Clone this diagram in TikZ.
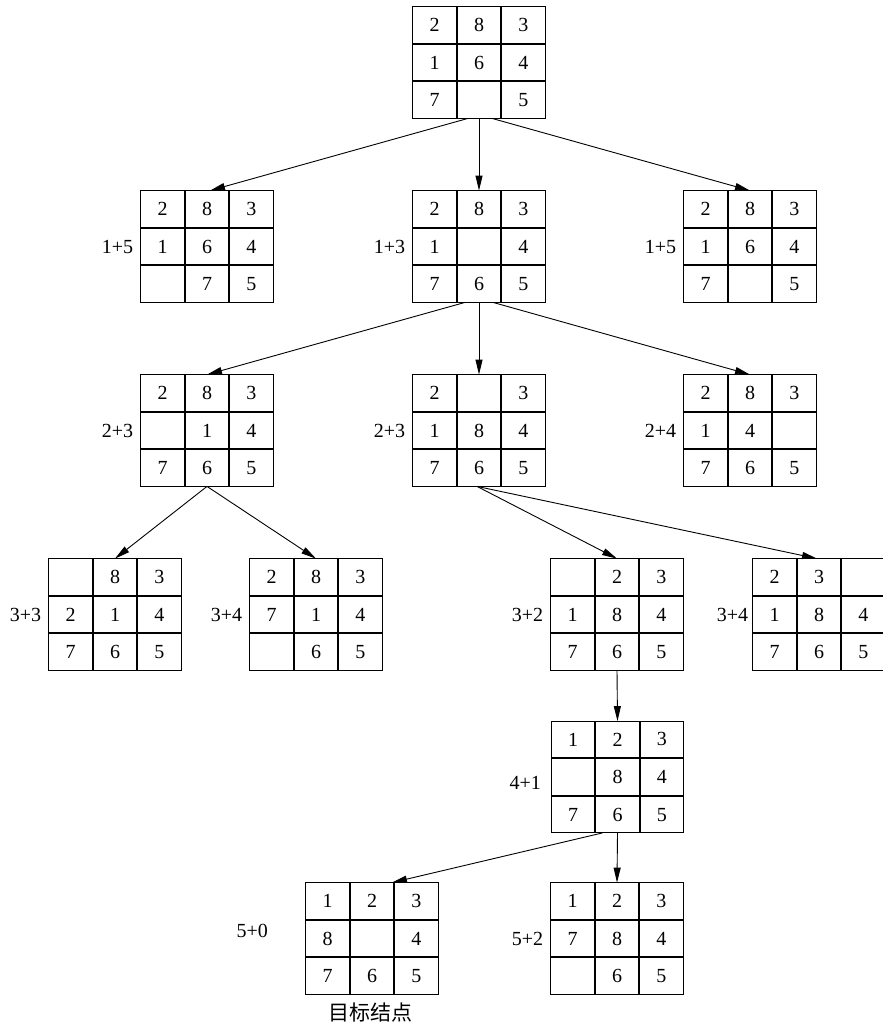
\documentclass[tikz,border=0pt]{standalone}
\usepackage{fontspec}
\setmainfont{Liberation Serif}
\newfontfamily\cjk{Noto Sans CJK SC}
\usetikzlibrary{matrix,arrows.meta,calc}

\tikzset{
  board/.style={
    matrix of nodes, nodes in empty cells,
    inner sep=0pt, outer sep=0pt,
    column sep=0pt, row sep=0pt,
    nodes={draw, line width=1pt, inner sep=0pt, outer sep=0pt,
           minimum width=43.4pt, minimum height=36.6pt, anchor=center,
           font=\fontsize{20}{24}\selectfont}
  },
  lab/.style={anchor=east, inner sep=0pt, font=\fontsize{20}{24}\selectfont},
  move/.style={line width=0.9pt, -{Triangle[length=15pt,width=7pt]}}
}

\begin{document}
\begin{tikzpicture}[x=1pt,y=-1pt]
\useasboundingbox (0,0) rectangle (883,1025);

% start state
\matrix[board] (r) at (479,62.5) {2&8&3\\1&6&4\\7&&5\\};

% depth 1
\matrix[board] (a1) at (207,246.5) {2&8&3\\1&6&4\\&7&5\\};
\node[lab] (a1-lab) at ($(a1.west)+(-7,0)$) {1+5};
\matrix[board] (a2) at (479,246.5) {2&8&3\\1&&4\\7&6&5\\};
\node[lab] (a2-lab) at ($(a2.west)+(-7,0)$) {1+3};
\matrix[board] (a3) at (750,246.5) {2&8&3\\1&6&4\\7&&5\\};
\node[lab] (a3-lab) at ($(a3.west)+(-7,0)$) {1+5};

% depth 2
\matrix[board] (b1) at (207,430.5) {2&8&3\\&1&4\\7&6&5\\};
\node[lab] (b1-lab) at ($(b1.west)+(-7,0)$) {2+3};
\matrix[board] (b2) at (479,430.5) {2&&3\\1&8&4\\7&6&5\\};
\node[lab] (b2-lab) at ($(b2.west)+(-7,0)$) {2+3};
\matrix[board] (b3) at (750,430.5) {2&8&3\\1&4&\\7&6&5\\};
\node[lab] (b3-lab) at ($(b3.west)+(-7,0)$) {2+4};

% depth 3
\matrix[board] (c1) at (115,614.5) {&8&3\\2&1&4\\7&6&5\\};
\node[lab] (c1-lab) at ($(c1.west)+(-7,0)$) {3+3};
\matrix[board] (c2) at (316,614.5) {2&8&3\\7&1&4\\&6&5\\};
\node[lab] (c2-lab) at ($(c2.west)+(-7,0)$) {3+4};
\matrix[board] (c3) at (617,614.5) {&2&3\\1&8&4\\7&6&5\\};
\node[lab] (c3-lab) at ($(c3.west)+(-7,0)$) {3+2};
\matrix[board] (c4) at (819,614.5) {2&3&\\1&8&4\\7&6&5\\};
\node[lab] (c4-lab) at ($(c4.west)+(-4,0)$) {3+4};

% depth 4
\matrix[board] (d1) at (617.5,777) {1&2&3\\&8&4\\7&6&5\\};
\node[lab] (d1-lab) at (541,783) {4+1};

% depth 5
\matrix[board] (e1) at (372,938.5) {1&2&3\\8&&4\\7&6&5\\};
\node[lab] (e1-lab) at (268,931) {5+0};
\node[font=\cjk\fontsize{21}{24}\selectfont, inner sep=0pt] (goal) at (370,1012) {目标结点};
\matrix[board] (e2) at (617,938.5) {1&2&3\\7&8&4\\&6&5\\};
\node[lab] (e2-lab) at ($(e2.west)+(-7,0)$) {5+2};

% expansions
\draw[move] ($(r-3-2.south)+(-11,0)$) -- ($(a1-1-2.north)+(3,0)$);
\draw[move] (r-3-2.south) -- (a2-1-2.north);
\draw[move] ($(r-3-2.south)+(13,0)$) -- (a3-1-2.north);

\draw[move] ($(a2-3-2.south)+(-14,0)$) -- (b1-1-2.north);
\draw[move] (a2-3-2.south) -- (b2-1-2.north);
\draw[move] ($(a2-3-2.south)+(14,0)$) -- (b3-1-2.north);

\draw[move] (b1-3-2.south) -- (c1-1-2.north);
\draw[move] (b1-3-2.south) -- (c2-1-2.north);

\draw[move] ($(b2-3-2.south)+(-2,0)$) -- (c3-1-2.north);
\draw[move] ($(b2-3-2.south)+(-2,0)$) -- ($(c4-1-2.north)+(-2,0)$);

\draw[move] (c3-3-2.south) -- (d1-1-2.north);

\draw[move] ($(d1-3-2.south)+(-15,0)$) -- ($(e1-1-2.north)+(20,0)$);
\draw[move] (d1-3-2.south) -- (e2-1-2.north);
\end{tikzpicture}
\end{document}
